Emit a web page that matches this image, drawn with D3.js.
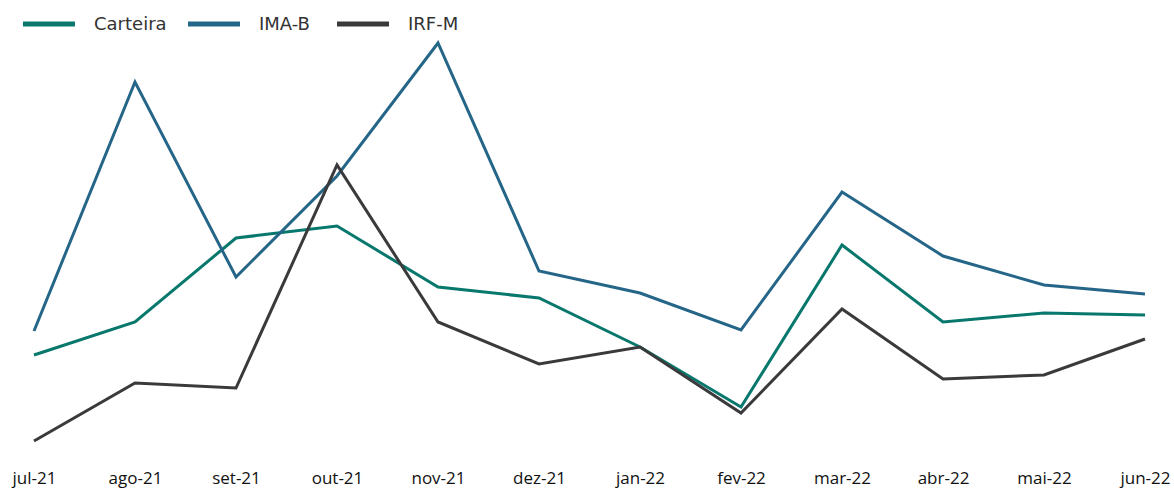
<!DOCTYPE html>
<html><head><meta charset="utf-8">
<script src="https://cdn.jsdelivr.net/npm/d3@7"></script>
<style>body{margin:0;background:#fff;}svg{display:block;}</style>
</head><body>
<svg id="c" width="1174" height="488"></svg>
<script>
const months = ["jul-21","ago-21","set-21","out-21","nov-21","dez-21","jan-22","fev-22","mar-22","abr-22","mai-22","jun-22"];
const carteira = [0.45,0.78,1.62,1.74,1.13,1.02,0.53,-0.07,1.55,0.78,0.87,0.85];
const imab = [0.69,3.18,1.23,2.24,3.57,1.29,1.07,0.70,2.08,1.44,1.15,1.06];
const irfm = [-0.41,0.17,0.12,2.35,0.78,0.36,0.53,-0.13,0.91,0.21,0.25,0.61];
const seriesNames = ["Carteira","IMA-B","IRF-M"];
const colors = ["#08786d","#256688","#3a3a3d"];

const series = [carteira, imab, irfm];
const svg = d3.select("#c");
const x = d3.scalePoint().domain(months).range([34,1145]);
const all = series.flat();
const y = d3.scaleLinear().domain([d3.min(all), d3.max(all)]).range([441,43]);

const line = d3.line().x((d,i)=>x(months[i])).y(d=>y(d));
series.forEach((s,k)=>{
  svg.append("path").datum(s).attr("d",line).attr("fill","none")
    .attr("stroke",colors[k]).attr("stroke-width",3).attr("stroke-linejoin","miter");
});

const ax = svg.append("g").attr("transform","translate(0,468)")
  .call(d3.axisBottom(x).tickSize(0).tickPadding(4));
ax.select(".domain").remove();
ax.selectAll("text").attr("font-family","'Open Sans', sans-serif").attr("font-size",17).attr("fill","#111");

const lg = svg.append("g");
const lx = [23,188,337];
seriesNames.forEach((n,k)=>{
  lg.append("line").attr("x1",lx[k]).attr("x2",lx[k]+52).attr("y1",24).attr("y2",24)
    .attr("stroke",colors[k]).attr("stroke-width",5);
  lg.append("text").attr("x",lx[k]+71).attr("y",30).text(n)
    .attr("font-family","'DejaVu Sans', Verdana, sans-serif").attr("font-size",18).attr("fill","#333");
});
</script>
</body></html>
